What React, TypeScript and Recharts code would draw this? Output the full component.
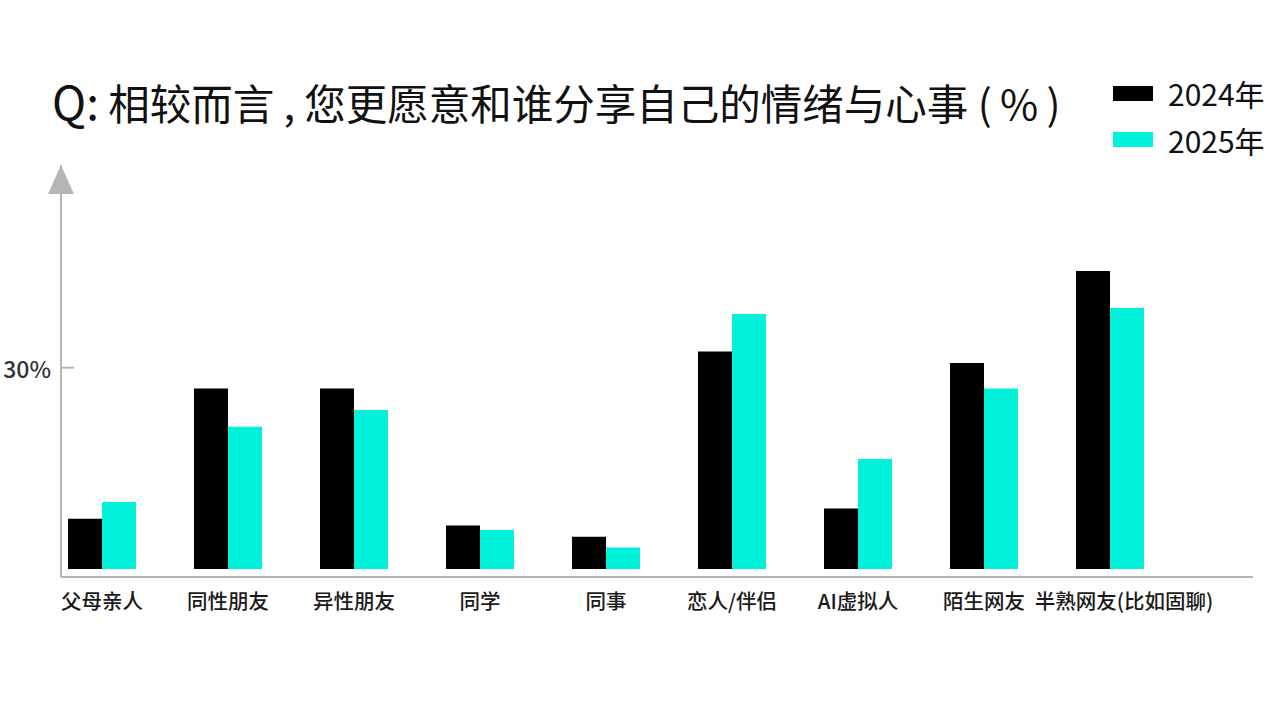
import React from 'react';
import { BarChart, Bar, XAxis, YAxis } from 'recharts';

const categories = ['父母亲人', '同性朋友', '异性朋友', '同学', '同事', '恋人/伴侣', 'AI虚拟人', '陌生网友', '半熟网友(比如固聊)'];
const values2024 = [7.5, 26.9, 26.9, 6.5, 4.8, 32.4, 9.0, 30.7, 44.4];
const values2025 = [10.0, 21.2, 23.7, 5.8, 3.2, 38.0, 16.4, 26.9, 38.9];
const seriesNames = ['2024年', '2025年'];
const seriesColors = ['#000000', '#00F2DA'];
const yTicks = [30, 60.2];
const titlePrefix = 'Q:';
const titleBody = ' 相较而言 , 您更愿意和谁分享自己的情绪与心事 (\u2009%\u2009)';

const data = categories.map((name, i) => ({ name, v2024: values2024[i], v2025: values2025[i] }));

const AXIS = '#b5b5b5';
const FONT = "'Noto Sans CJK SC', 'Noto Sans', sans-serif";

const YTick = (props: any) => {
  const { x, y, payload } = props;
  if (payload.value > 50) {
    return <polygon points={`${x},${y} ${x - 13},${y + 29} ${x + 13},${y + 29}`} fill={AXIS} />;
  }
  return (
    <g>
      <line x1={x} x2={x + 13} y1={y} y2={y} stroke={AXIS} strokeWidth={2} />
      <text x={x - 10} y={y} textAnchor="end" dominantBaseline="central" fill="#333" fontSize={23} fontWeight={500} fontFamily={FONT}>
        {payload.value}%
      </text>
    </g>
  );
};

const XTick = (props: any) => {
  const { x, y, payload, index } = props;
  const shift = index === categories.length - 1 ? 14 : 0;
  return (
    <text x={x + shift} y={y} dy="0.71em" textAnchor="middle" fill="#1a1a1a" fontSize={20.5} fontWeight={500} fontFamily={FONT}>
      {payload.value}
    </text>
  );
};

export default function App() {
  return (
    <div style={{ position: 'absolute', left: 0, top: 0, width: 1280, height: 719, background: '#fff', fontFamily: FONT }}>
      <div style={{ position: 'absolute', left: 52, top: 73, fontSize: 41.5, color: '#111', whiteSpace: 'nowrap', lineHeight: 1.2 }}>
        <span style={{ fontSize: 46 }}>{titlePrefix}</span>
        {titleBody}
      </div>
      <div style={{ position: 'absolute', left: 1113, top: 70 }}>
        {seriesNames.map((n, i) => (
          <div key={n} style={{ display: 'flex', alignItems: 'center', height: 46.5 }}>
            <div style={{ width: 40, height: 15, background: seriesColors[i], marginRight: 15 }} />
            <span style={{ fontSize: 30, color: '#111' }}>{n}</span>
          </div>
        ))}
      </div>
      <div style={{ position: 'absolute', left: 0, top: 0 }}>
        <BarChart width={1280} height={719} data={data} margin={{ top: 165, right: 27, bottom: 102, left: 0 }} barGap={0}>
          <XAxis
            dataKey="name"
            axisLine={{ stroke: AXIS, strokeWidth: 2 }}
            tickLine={false}
            tickMargin={11}
            height={40}
            interval={0}
            padding={{ left: -22, right: 80 }}
            tick={<XTick />}
          />
          <YAxis
            type="number"
            domain={[-1.19, 60.2]}
            allowDataOverflow
            ticks={yTicks}
            interval={0}
            width={61}
            axisLine={{ stroke: AXIS, strokeWidth: 2 }}
            tickLine={false}
            tickSize={0}
            tickMargin={0}
            tick={<YTick />}
          />
          <Bar dataKey="v2024" name={seriesNames[0]} fill={seriesColors[0]} barSize={34} isAnimationActive={false} />
          <Bar dataKey="v2025" name={seriesNames[1]} fill={seriesColors[1]} barSize={34} isAnimationActive={false} />
        </BarChart>
      </div>
    </div>
  );
}
